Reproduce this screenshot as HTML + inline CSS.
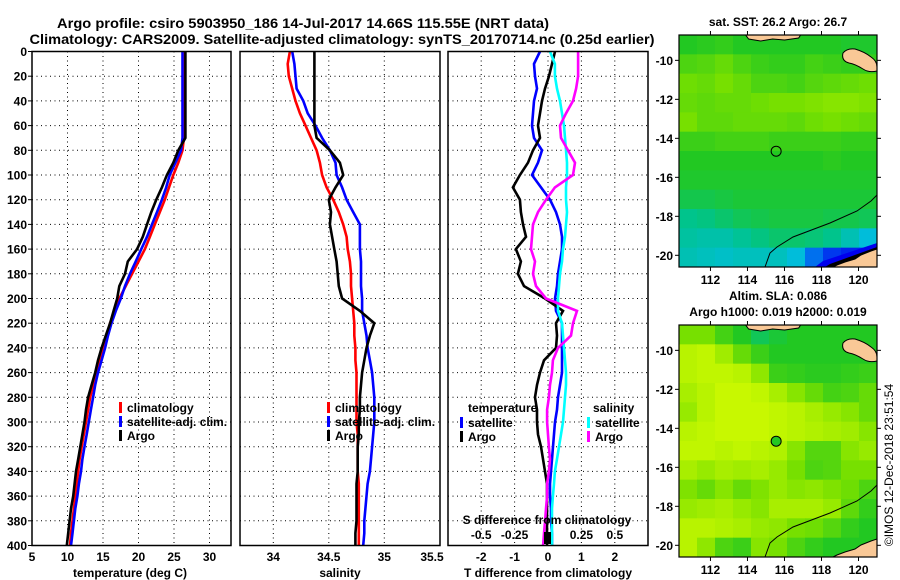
<!DOCTYPE html>
<html><head><meta charset="utf-8"><title>Argo profile</title>
<style>
html,body{margin:0;padding:0;background:#fff;}
svg{display:block;font-family:"Liberation Sans",Arial,sans-serif;font-weight:bold;}
</style></head>
<body>
<svg id="chart" width="900" height="580" viewBox="0 0 900 580" xmlns="http://www.w3.org/2000/svg">
<text x="303" y="28" font-size="14" text-anchor="middle" textLength="492" lengthAdjust="spacingAndGlyphs">Argo profile: csiro 5903950_186 14-Jul-2017 14.66S 115.55E (NRT data)</text>
<text x="342" y="44" font-size="14" text-anchor="middle" textLength="625" lengthAdjust="spacingAndGlyphs">Climatology: CARS2009. Satellite-adjusted climatology: synTS_20170714.nc (0.25d earlier)</text>
<defs>
<clipPath id="clipMap1"><rect x="679" y="35" width="198" height="232"/></clipPath>
<clipPath id="clipMap2"><rect x="679" y="325" width="198" height="232"/></clipPath>
</defs>
<g id="grids"></g>
<g id="series"></g>
<g id="frames"></g>
<g id="labels" font-size="12"></g>
<g id="maps"></g>
<text transform="translate(893,465) rotate(-90)" font-size="12" font-weight="normal" text-anchor="middle">©IMOS 12-Dec-2018 23:51:54</text>
</svg>
<script>
const pres = [0,10,20,30,40,50,60,70,80,90,100,110,120,130,140,150,160,170,180,190,200,210,220,230,240,250,260,270,280,290,300,310,320,330,340,350,360,370,380,390,400];
const tClim = [26.4,26.4,26.4,26.4,26.4,26.4,26.4,26.4,26.2,25.6,24.9,24.3,23.7,23.0,22.3,21.6,20.9,20.0,19.1,18.2,17.3,16.6,16.0,15.5,15.0,14.5,14.0,13.6,13.2,12.9,12.6,12.3,12.0,11.7,11.5,11.3,11.1,10.9,10.7,10.5,10.35];
const tSat = [26.2,26.2,26.2,26.2,26.2,26.2,26.2,26.2,26.0,25.2,24.4,23.9,23.3,22.6,21.9,21.2,20.4,19.6,18.8,18.1,17.5,16.8,16.2,15.7,15.3,14.8,14.3,13.9,13.6,13.3,13.0,12.7,12.4,12.1,11.9,11.6,11.4,11.1,10.9,10.7,10.5];
const tArgo = [26.6,26.6,26.6,26.6,26.6,26.6,26.6,26.6,25.6,24.9,24.0,23.3,22.5,21.8,21.2,20.6,19.8,18.5,18.1,17.3,17.0,16.5,16.0,15.4,14.8,14.3,13.9,13.4,12.9,12.6,12.4,12.1,11.8,11.5,11.2,11.0,10.8,10.5,10.3,10.1,9.9];
const sClim = [34.15,34.13,34.14,34.17,34.20,34.24,34.29,34.34,34.39,34.42,34.44,34.48,34.54,34.59,34.63,34.66,34.67,34.69,34.70,34.70,34.71,34.72,34.73,34.73,34.74,34.74,34.75,34.75,34.75,34.75,34.75,34.76,34.76,34.76,34.76,34.77,34.77,34.77,34.77,34.77,34.77];
const sSat = [34.17,34.19,34.20,34.21,34.27,34.31,34.38,34.44,34.51,34.56,34.57,34.62,34.66,34.72,34.78,34.78,34.78,34.79,34.79,34.79,34.80,34.80,34.82,34.84,34.85,34.87,34.89,34.90,34.91,34.91,34.91,34.90,34.89,34.88,34.87,34.85,34.84,34.83,34.82,34.82,34.81];
const sArgo = [34.37,34.37,34.37,34.37,34.37,34.37,34.37,34.39,34.51,34.60,34.63,34.56,34.50,34.52,34.51,34.53,34.55,34.57,34.58,34.59,34.62,34.78,34.91,34.87,34.84,34.82,34.80,34.79,34.78,34.78,34.77,34.77,34.76,34.76,34.76,34.75,34.75,34.75,34.75,34.74,34.74];
const dTSat = [-0.24,-0.42,-0.39,-0.33,-0.42,-0.45,-0.48,-0.42,-0.18,-0.30,-0.48,-0.21,0.06,0.24,0.36,0.42,0.42,0.36,0.30,0.27,0.21,0.24,0.42,0.42,0.42,0.42,0.42,0.36,0.30,0.27,0.21,0.18,0.15,0.12,0.09,0.06,0.06,0.09,0.09,0.12,0.12];
const dTArgo = [0.21,0.12,0.03,-0.09,-0.18,-0.24,-0.30,-0.24,-0.45,-0.60,-0.84,-1.05,-0.84,-0.81,-0.75,-0.66,-0.96,-0.81,-0.90,-0.72,-0.09,0.45,0.24,0.27,0.24,-0.12,-0.24,-0.33,-0.39,-0.33,-0.33,-0.30,-0.21,-0.15,-0.09,-0.03,-0.03,-0.03,-0.03,-0.03,-0.03];
const dSSat = [0.015,0.052,0.052,0.067,0.090,0.105,0.120,0.127,0.135,0.142,0.142,0.135,0.135,0.142,0.135,0.127,0.112,0.105,0.090,0.082,0.075,0.075,0.105,0.112,0.120,0.127,0.135,0.135,0.127,0.120,0.112,0.097,0.082,0.067,0.052,0.045,0.037,0.030,0.030,0.030,0.030];
const dSArgo = [0.225,0.225,0.225,0.210,0.187,0.135,0.090,0.097,0.150,0.202,0.187,0.052,-0.015,-0.075,-0.112,-0.120,-0.127,-0.097,-0.112,-0.090,-0.015,0.217,0.187,0.172,0.075,0.037,0.030,0.015,0.007,-0.007,-0.007,0.000,0.007,0.015,0.007,-0.007,-0.007,-0.015,-0.022,-0.030,-0.037];
const yTicks = [0,20,40,60,80,100,120,140,160,180,200,220,240,260,280,300,320,340,360,380,400];
const tTicks = [5,10,15,20,25,30];
const sTicks = [34,34.5,35,35.5];
const sTickLabels = ["34","34.5","35","35.5"];
const dTicks = [-2,-1,0,1,2];
const dsTicks = [-0.5,-0.25,0.25,0.5];
const lonTicks = [112,114,116,118,120];
const latTicks = [-10,-12,-14,-16,-18,-20];
const sstGrid = [
[3.0,3.1,3.2,3.0,3.0,3.0,3.0,3.0,3.0,2.9,2.9],
[3.5,3.6,3.8,3.5,3.3,3.2,3.2,3.4,3.3,3.2,3.2],
[3.9,3.8,4.0,3.8,3.5,3.5,3.4,3.6,3.7,3.8,3.9],
[3.8,3.7,3.8,3.8,3.9,4.0,4.0,4.1,4.2,4.2,4.1],
[4.0,3.7,3.7,3.8,3.8,3.8,3.7,3.9,4.0,3.9,3.8],
[3.3,3.3,3.4,3.4,3.4,3.3,3.3,3.3,3.3,3.2,3.2],
[3.0,3.0,3.0,3.0,3.0,3.0,3.0,3.0,3.1,3.0,3.0],
[2.9,2.9,2.9,2.9,2.9,2.9,2.9,2.9,2.9,2.9,2.9],
[2.6,2.6,2.7,2.8,2.8,2.8,2.8,2.8,2.8,2.8,2.8],
[2.0,2.1,2.3,2.5,2.6,2.7,2.7,2.7,2.6,2.6,2.5],
[1.8,1.7,1.7,1.9,2.1,2.3,2.3,2.2,2.0,1.6,1.2],
[1.6,1.5,1.4,1.5,1.5,1.5,1.2,0.6,0.3,0.2,0.2]];
const slaGrid = [
[4.0,4.0,3.4,3.0,2.5,2.8,3.0,3.0,3.0,3.0,3.0],
[4.8,4.9,4.5,3.8,3.3,3.0,3.0,3.0,3.0,3.0,3.0],
[4.8,4.9,4.9,4.8,4.3,3.3,3.2,3.1,3.1,3.2,3.3],
[4.6,4.8,5.0,5.0,4.9,4.6,4.2,3.8,3.4,3.5,3.8],
[4.4,4.8,5.0,5.0,5.0,4.9,4.8,4.6,4.4,4.2,3.8],
[4.8,4.9,5.0,5.0,5.0,4.9,4.8,4.7,4.6,4.5,4.2],
[4.9,4.9,4.8,4.9,4.8,4.7,4.2,3.6,3.6,4.2,4.4],
[4.6,4.4,4.6,4.5,4.6,4.4,4.0,3.5,3.6,4.0,4.0],
[4.1,3.8,4.2,3.8,4.1,4.4,4.2,4.3,4.1,3.9,3.5],
[4.4,4.5,4.6,4.4,4.2,4.6,4.6,4.6,4.4,3.7,3.2],
[4.8,4.8,4.7,4.6,4.4,4.3,4.0,3.9,3.6,3.2,3.0],
[4.8,4.3,3.5,3.3,4.2,4.0,3.5,3.2,3.0,3.0,3.0]];
const argoLon = 115.55, argoLat = -14.66;

const NS="http://www.w3.org/2000/svg";
function mk(tag, attrs, parent){const e=document.createElementNS(NS,tag);for(const k in attrs)e.setAttribute(k,attrs[k]);parent.appendChild(e);return e;}
const yP = p => 51.5 + p*1.235;
const xT = v => 32 + (v-5)*7.1;
const xS = v => 240 + (v-33.7)*111;
const xD = v => 548 + v*33.4;
const xDS = v => 548 + v*133.6;
const P1=[32,231], P2=[240,440], P3=[448,648], PY=[51.5,545.5];
const G=document.getElementById('grids'), S=document.getElementById('series'), F=document.getElementById('frames'), L=document.getElementById('labels'), M=document.getElementById('maps');

function dotted(x1,y1,x2,y2){const l=mk('line',{x1,y1,x2,y2,stroke:'#000','stroke-width':1,'stroke-dasharray':'1,3.5'},G);

}
[P1,P2,P3].forEach(px=>{yTicks.slice(1,-1).forEach(p=>dotted(px[0],yP(p),px[1],yP(p)));});
tTicks.slice(1).forEach(v=>dotted(xT(v),PY[0],xT(v),PY[1]));
sTicks.slice(0,3).forEach(v=>dotted(xS(v),PY[0],xS(v),PY[1]));
dTicks.forEach(v=>dotted(xD(v),PY[0],xD(v),PY[1]));

function line(xs,fx,color,name){
  const pts=xs.map((v,i)=>fx(v).toFixed(1)+','+yP(pres[i]).toFixed(1)).join(' ');
  const e=mk('polyline',{points:pts,fill:'none',stroke:color,'stroke-width':2.6,'stroke-linejoin':'miter'},S);
  
  
}
line(tClim,xT,'#ff0000','temperature-climatology-line');
line(tSat,xT,'#0000ff','temperature-satellite-line');
line(tArgo,xT,'#000000','temperature-argo-line');
line(sClim,xS,'#ff0000','salinity-climatology-line');
line(sSat,xS,'#0000ff','salinity-satellite-line');
line(sArgo,xS,'#000000','salinity-argo-line');
line(dTSat,xD,'#0000ff','tdiff-satellite-line');
line(dTArgo,xD,'#000000','tdiff-argo-line');
line(dSSat,xDS,'#00ffff','sdiff-satellite-line');
line(dSArgo,xDS,'#ff00ff','sdiff-argo-line');
const blob=mk('rect',{x:544,y:532,width:7,height:12,fill:'#000'},S);



[P1,P2,P3].forEach((px,i)=>{const r=mk('rect',{x:px[0],y:PY[0],width:px[1]-px[0],height:PY[1]-PY[0],fill:'none',stroke:'#000','stroke-width':1.5},F);

});

function txt(x,y,s,anchor,name,color){const t=mk('text',{x,y,'text-anchor':anchor||'start',fill:color||'#000'},L);t.textContent=s;

return t;}
yTicks.forEach(p=>{txt(27,yP(p)+4.5,String(p),'end','y-tick-label');
 mk('line',{x1:28,y1:yP(p),x2:32,y2:yP(p),stroke:'#000'},G);});
tTicks.forEach(v=>txt(xT(v),561,String(v),'middle','x-tick-temperature'));
sTicks.forEach((v,i)=>txt(i===3?432:xS(v),561,sTickLabels[i],'middle','x-tick-salinity'));
dTicks.forEach(v=>txt(xD(v),561,String(v),'middle','x-tick-tdiff'));
dsTicks.forEach(v=>txt(xDS(v),539,String(v),'middle','tick-sdiff'));
txt(130,577,'temperature (deg C)','middle','x-axis-title-temperature');
txt(340,577,'salinity','middle','x-axis-title-salinity');
txt(548,577,'T difference from climatology','middle','x-axis-title-tdiff');
txt(547,524,'S difference from climatology','middle','axis-title-sdiff');

function legend(mx,y,color,label,name){const r=mk('rect',{x:mx-1,y:y-9,width:3,height:11,fill:color},L);


txt(mx+7,y+1,label,'start',name);}
legend(120,411,'#ff0000','climatology','legend-climatology');
legend(120,425,'#0000ff','satellite-adj. clim.','legend-satellite');
legend(120,439,'#000000','Argo','legend-argo');
legend(328,411,'#ff0000','climatology','legend2-climatology');
legend(328,425,'#0000ff','satellite-adj. clim.','legend2-satellite');
legend(328,439,'#000000','Argo','legend2-argo');
txt(468,412,'temperature','start','legend-temperature-heading');
legend(461,426,'#0000ff','satellite','legend-t-satellite');
legend(461,440,'#000000','Argo','legend-t-argo');
txt(593,412,'salinity','start','legend-salinity-heading');
legend(588,426,'#00ffff','satellite','legend-s-satellite');
legend(588,440,'#ff00ff','Argo','legend-s-argo');

// maps
const MX=[679,877], lon0=110.3, lon1=121.0, lat0=-8.7, lat1=-20.6;
const stops=[[0,[0,0,238]],[1,[0,187,238]],[2,[0,196,140]],[3,[34,200,34]],[4,[119,224,0]],[5,[200,248,0]]];
function cmap(v){v=Math.max(0,Math.min(5,v));const i=Math.min(4,Math.floor(v)),f=v-i;const a=stops[i][1],b=stops[i+1][1];
 return 'rgb('+a.map((c,k)=>Math.round(c+(b[k]-c)*f)).join(',')+')';}
function drawMap(top,grid,title,circleFill,name,clipId,isSst){
  const bot=top+232;
  const mx=lon=>MX[0]+(lon-lon0)/(lon1-lon0)*(MX[1]-MX[0]);
  const my=lat=>top+(lat-lat0)/(lat1-lat0)*(bot-top);
  const g=mk('g',{},M);
  
  
  const inner=mk('g',{'clip-path':'url(#'+clipId+')'},g);
  const nr=grid.length,nc=grid[0].length,cw=(MX[1]-MX[0])/nc,ch=(bot-top)/nr;
  grid.forEach((row,r)=>row.forEach((v,c)=>{const e=mk('rect',{x:(MX[0]+c*cw).toFixed(2),y:(top+r*ch).toFixed(2),width:(cw+0.6).toFixed(2),height:(ch+0.6).toFixed(2),fill:cmap(v)},inner);
   
   }));
  if(isSst){mk('path',{d:`M${MX[1]},${bot-24} L823,${bot-6} 815,${bot} ${MX[1]},${bot}z`,fill:'#0000ee'},inner);
            mk('path',{d:`M${MX[1]},${bot-20} L830,${bot-3} 825,${bot} ${MX[1]},${bot}z`,fill:'#000'},inner);}
  // island (Sumba)
  mk('path',{d:`M843,${top+18} q4,-5 12,-4 q10,3 16,8 q6,4 6,10 l0,4 q-8,2 -14,-2 q-8,-5 -14,-6 q-8,-2 -6,-10z`,fill:'#f9c896',stroke:'#000','stroke-width':1},inner);
  // top strip land
  mk('path',{d:`M${mx(113.9)},${top} l55,0 l-2,3 l-14,2 l-12,-1 l-12,2 l-12,-2z`,fill:'#f9c896',stroke:'#000','stroke-width':1},inner);
  // bottom-right land (Australia)
  mk('path',{d:`M${MX[1]},${bot-18} l-6,2 l-10,4 l-6,4 l-10,3 l-8,3 l-4,2 l44,0z`,fill:'#f9c896',stroke:'#000','stroke-width':1},inner);
  mk('path',{d:`M765,${bot} L770,${bot-14} 777,${bot-20} 793,${bot-30} 830,${bot-44} 857,${bot-56} 871,${bot-66} ${MX[1]},${bot-72}`,fill:'none',stroke:'#000','stroke-width':1},inner);
  const c=mk('circle',{cx:mx(argoLon),cy:my(argoLat),r:5,fill:circleFill,stroke:'#000','stroke-width':1},g);
  
  
  const fr=mk('rect',{x:MX[0],y:top,width:MX[1]-MX[0],height:bot-top,fill:'none',stroke:'#000','stroke-width':1.2},g);
  
  
  lonTicks.forEach(l=>{mk('line',{x1:mx(l),y1:bot,x2:mx(l),y2:bot+4,stroke:'#000'},g);mk('line',{x1:mx(l),y1:top,x2:mx(l),y2:top-4,stroke:'#000'},g);
    txt(mx(l),bot+17,String(l),'middle','map-lon-label');});
  latTicks.forEach(l=>{mk('line',{x1:MX[0]-4,y1:my(l),x2:MX[0],y2:my(l),stroke:'#000'},g);mk('line',{x1:MX[1],y1:my(l),x2:MX[1]+4,y2:my(l),stroke:'#000'},g);
    txt(673,my(l)+4.5,String(l),'end','map-lat-label');});
  title.forEach((t,i)=>txt(778,top-9-(title.length-1-i)*16,t,'middle','map-title'));
}
drawMap(35,sstGrid,['sat. SST: 26.2 Argo: 26.7'],'none','sst-map','clipMap1',true);
drawMap(325,slaGrid,['Altim. SLA: 0.086','Argo h1000: 0.019 h2000: 0.019'],'#22c822','sla-map','clipMap2',false);
</script>
</body></html>
